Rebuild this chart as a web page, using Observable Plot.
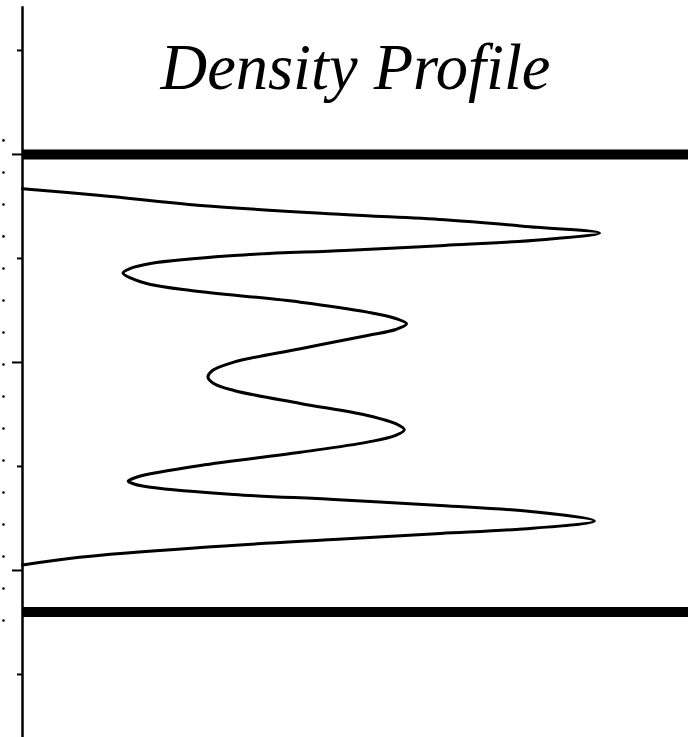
<!DOCTYPE html>
<html>
<head>
<meta charset="utf-8">
<script src="https://cdn.jsdelivr.net/npm/d3@7"></script>
<script src="https://cdn.jsdelivr.net/npm/@observablehq/plot@0.6"></script>
<style>
  html, body { margin: 0; padding: 0; background: #fff; }
  #chart svg { display: block; }
</style>
</head>
<body>
<div id="chart"></div>
<script>
// Depth positions (top to bottom) and the density read at each one
const depth = [
  3.30, 3.94, 4.90, 5.77, 6.28, 7.00, 7.55, 8.20, 8.75, 9.23, 9.71,
  10.48, 10.96, 11.39, 11.92, 12.50, 13.08, 14.20, 15.16, 15.77, 16.28, 16.83,
  17.40, 18.68, 19.97, 20.77, 21.41, 22.02, 22.69, 23.94, 25.10, 25.96, 26.47,
  27.02, 27.66, 28.63, 29.90, 30.70, 31.06, 31.41, 31.73, 31.99, 32.69, 33.17,
  33.75, 34.33, 35.24, 36.05, 36.44, 37.02, 37.79, 38.72, 39.47
];
const density = [
  0.000, 0.136, 0.310, 0.559, 0.735, 0.895, 1.005, 0.905, 0.735, 0.561, 0.368,
  0.223, 0.188, 0.175, 0.190, 0.223, 0.293, 0.484, 0.601, 0.650, 0.669, 0.650,
  0.601, 0.484, 0.368, 0.331, 0.323, 0.333, 0.368, 0.484, 0.601, 0.653, 0.665,
  0.650, 0.601, 0.484, 0.310, 0.223, 0.197, 0.184, 0.197, 0.223, 0.368, 0.542,
  0.728, 0.885, 0.996, 0.860, 0.728, 0.542, 0.310, 0.099, 0.000
];

// Boundary planes, axis ticks and the small marks beside the axis
const boundaries = [0, 44];
const majorTicks = [0, 20, 40];
const minorTicks = [-10, 10, 30, 50];
const sideMarks = [
  -1.35, 1.73, 4.81, 7.88, 10.96, 14.04, 17.12, 20.19,
  23.27, 26.35, 29.42, 32.50, 35.58, 38.65, 41.73, 44.81
];
const title = "Density Profile";

const profile = depth.map((d, i) => ({depth: d, density: density[i]}));

const chart = Plot.plot({
  width: 688,
  height: 737,
  marginTop: 7,
  marginBottom: 0,
  marginRight: 0,
  marginLeft: 22,
  style: {background: "#fff", overflow: "visible"},
  x: {domain: [0, 1.16], axis: null},
  y: {domain: [-14.13, 56.06], reverse: true, axis: null},
  marks: [
    Plot.frame({anchor: "left", stroke: "#000", strokeWidth: 2.5}),
    Plot.axisY(majorTicks, {anchor: "left", tickSize: 10, tickFormat: () => "", label: null, stroke: "#000", strokeWidth: 2}),
    Plot.axisY(minorTicks, {anchor: "left", tickSize: 5, tickFormat: () => "", label: null, stroke: "#000", strokeWidth: 2}),
    Plot.dot(sideMarks, {y: d => d, frameAnchor: "left", dx: -19, r: 1.3, fill: "#000", stroke: null}),
    Plot.ruleY(boundaries, {stroke: "#000", strokeWidth: 10}),
    Plot.line(profile, {x: "density", y: "depth", curve: "catmull-rom", stroke: "#000", strokeWidth: 3}),
    Plot.text([title], {
      frameAnchor: "top", dy: 81, lineAnchor: "bottom",
      fontFamily: "Liberation Serif", fontStyle: "italic", fontSize: 64.5, fill: "#000"
    })
  ]
});

document.getElementById("chart").append(chart);
</script>
</body>
</html>
